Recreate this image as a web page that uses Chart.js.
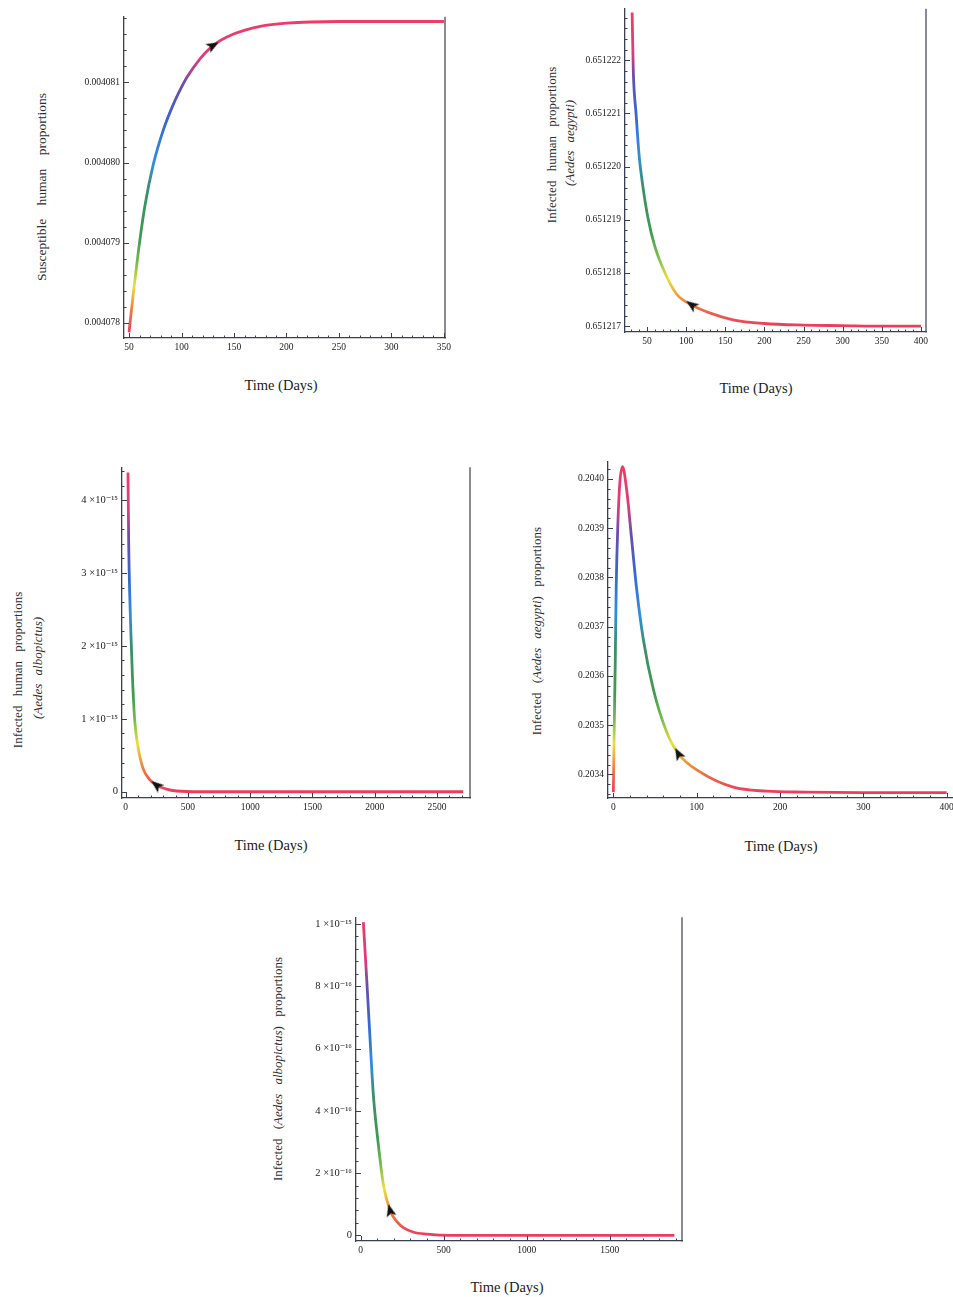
<!DOCTYPE html>
<html><head><meta charset="utf-8">
<script src="https://cdn.jsdelivr.net/npm/chart.js@4"></script>
<style>
html,body{margin:0;padding:0;background:#fff;}
body{width:953px;height:1297px;overflow:hidden;position:relative;font-family:'Liberation Serif','DejaVu Serif',serif;}
canvas{position:absolute;}
.t{position:absolute;white-space:nowrap;color:#1c1c1c;font-size:14.5px;transform:translate(-50%,-50%);}
.v{position:absolute;white-space:nowrap;color:#2e2e2e;font-size:13px;transform:translate(-50%,-50%) rotate(-90deg);word-spacing:6px;}
</style></head><body>

<div class="t" style="left:281px;top:385px">Time (Days)</div>
<div class="t" style="left:756px;top:388px">Time (Days)</div>
<div class="t" style="left:271px;top:845px">Time (Days)</div>
<div class="t" style="left:781px;top:846px">Time (Days)</div>
<div class="t" style="left:507px;top:1287px">Time (Days)</div>

<div class="v" style="left:42px;top:187px;font-size:13.5px;word-spacing:10px">Susceptible human proportions</div>
<div class="v" style="left:552px;top:145px">Infected human proportions</div>
<div class="v" style="left:570px;top:143px;word-spacing:5px"><i>(Aedes aegypti)</i></div>
<div class="v" style="left:18px;top:670px">Infected human proportions</div>
<div class="v" style="left:38px;top:668px;word-spacing:5px"><i>(Aedes albopictus)</i></div>
<div class="v" style="left:537px;top:631px">Infected (<i>Aedes aegypti</i>) proportions</div>
<div class="v" style="left:278px;top:1069px">Infected (<i>Aedes albopictus</i>) proportions</div>

<script>
// ---------- DATA ----------
// Panel 1: susceptible human proportions
const p1Time  = [50, 54, 59, 65, 73, 83, 92, 100, 105, 118, 130, 149, 175, 200, 250, 300, 350];
const p1Value = [0.00407788, 0.00407836, 0.0040789, 0.00407945, 0.00407997, 0.00408042, 0.00408072, 0.00408094,
                 0.00408106, 0.0040813, 0.00408146, 0.0040816, 0.0040817, 0.00408174, 0.00408176, 0.00408176, 0.00408176];
const p1XTicks = [50, 100, 150, 200, 250, 300, 350];
const p1XLabels = ['50', '100', '150', '200', '250', '300', '350'];
const p1YTicks = [0.004078, 0.004079, 0.004080, 0.004081];
const p1YLabels = ['0.004078', '0.004079', '0.004080', '0.004081'];
const p1Arrow = [130, 0.00408146];

// Panel 2: infected human proportions (Aedes aegypti)
const p2Time  = [31, 32.5, 36, 40, 45, 51.7, 60, 73, 88, 107, 130, 160, 200, 250, 300, 350, 400];
const p2Value = [0.6512229, 0.6512218, 0.651221, 0.6512202, 0.6512196, 0.651219, 0.6512185, 0.651218,
                 0.6512176, 0.6512174, 0.65121725, 0.65121712, 0.65121705, 0.65121702, 0.65121701, 0.651217, 0.651217];
const p2XTicks = [50, 100, 150, 200, 250, 300, 350, 400];
const p2XLabels = ['50', '100', '150', '200', '250', '300', '350', '400'];
const p2YTicks = [0.651217, 0.651218, 0.651219, 0.651220, 0.651221, 0.651222];
const p2YLabels = ['0.651217', '0.651218', '0.651219', '0.651220', '0.651221', '0.651222'];
const p2Arrow = [107, 0.6512174];

// Panel 3: infected human proportions (Aedes albopictus)
const p3Time  = [18, 24, 32, 40, 54, 72, 99, 139, 190, 247, 320, 408, 600, 1000, 1500, 2000, 2710];
const p3Value = [4.38e-15, 3.38e-15, 2.71e-15, 2.25e-15, 1.57e-15, 0.98e-15, 0.61e-15, 0.32e-15,
                 0.17e-15, 0.09e-15, 0.04e-15, 0.01e-15, 0, 0, 0, 0, 0];
const p3XTicks = [0, 500, 1000, 1500, 2000, 2500];
const p3XLabels = ['0', '500', '1000', '1500', '2000', '2500'];
const p3YTicks = [0, 1e-15, 2e-15, 3e-15, 4e-15];
const p3YLabels = ['0', '1 \u00d710\u207b\u00b9\u2075', '2 \u00d710\u207b\u00b9\u2075', '3 \u00d710\u207b\u00b9\u2075', '4 \u00d710\u207b\u00b9\u2075'];
const p3Arrow = [247, 0.09e-15];

// Panel 4: infected (Aedes aegypti) proportions
const p4Time  = [0, 1.2, 2.4, 3.4, 5.5, 7.8, 11, 16, 22, 28, 36, 48, 64, 78, 104, 144, 184, 230, 300, 400];
const p4Value = [0.203364, 0.203506, 0.20364, 0.203776, 0.203911, 0.203992, 0.204025, 0.203978, 0.203877,
                 0.203776, 0.203674, 0.203573, 0.203486, 0.203442, 0.203405, 0.203374, 0.203366, 0.203364, 0.203363, 0.203363];
const p4XTicks = [0, 100, 200, 300, 400];
const p4XLabels = ['0', '100', '200', '300', '400'];
const p4YTicks = [0.2034, 0.2035, 0.2036, 0.2037, 0.2038, 0.2039, 0.2040];
const p4YLabels = ['0.2034', '0.2035', '0.2036', '0.2037', '0.2038', '0.2039', '0.2040'];
const p4Arrow = [78, 0.203442];

// Panel 5: infected (Aedes albopictus) proportions
const p5Time  = [16, 36, 56, 76, 106, 136, 177, 217, 257, 320, 400, 540, 800, 1200, 1600, 1890];
const p5Value = [1.006e-15, 8.25e-16, 6.34e-16, 4.53e-16, 2.93e-16, 1.65e-16, 0.80e-16, 0.45e-16,
                 0.25e-16, 0.10e-16, 0.04e-16, 0, 0, 0, 0, 0];
const p5XTicks = [0, 500, 1000, 1500];
const p5XLabels = ['0', '500', '1000', '1500'];
const p5YTicks = [0, 2e-16, 4e-16, 6e-16, 8e-16, 1e-15];
const p5YLabels = ['0', '2 \u00d710\u207b\u00b9\u2076', '4 \u00d710\u207b\u00b9\u2076', '6 \u00d710\u207b\u00b9\u2076', '8 \u00d710\u207b\u00b9\u2076', '1 \u00d710\u207b\u00b9\u2075'];
const p5Arrow = [177, 0.80e-16];

// ---------- STYLE ----------
const AXIS = '#3a3f52';
const STOPS = [[0,'#ec3c5e'],[0.07,'#f07a3e'],[0.15,'#ebe03c'],[0.22,'#7cbf4a'],[0.3,'#3e9c50'],
               [0.45,'#3a9068'],[0.55,'#2f8ee0'],[0.68,'#3766d0'],[0.8,'#6c4cae'],[0.88,'#e03c78'],[1,'#ee3c64']];
const PAD_L = 72, PAD_T = 8, PAD_R = 14, AX_H = 24;

// arrowhead image (tip pointing up), used as a point style and rotated by Chart.js
const ARROW_IMG = (() => {
  const c = document.createElement('canvas');
  c.width = 14; c.height = 14;
  const g = c.getContext('2d');
  g.fillStyle = '#121212';
  g.beginPath();
  g.moveTo(7, 0.5); g.lineTo(12, 13); g.lineTo(7, 10); g.lineTo(2, 13); g.closePath();
  g.fill();
  return c;
})();

const framePlugin = {
  id: 'frame',
  afterDatasetsDraw(chart) {
    const o = chart.options.plugins.frame;
    const {ctx, chartArea: a, scales: {x, y}} = chart;
    ctx.save();
    ctx.strokeStyle = AXIS;
    ctx.lineWidth = 1.2;
    if (o.right) {
      ctx.beginPath(); ctx.moveTo(a.right, a.top); ctx.lineTo(a.right, a.bottom + 0.6); ctx.stroke();
    }
    ctx.lineWidth = 1;
    const minor = (sc, step) => {
      const out = [];
      const k0 = Math.ceil(sc.min / step - 1e-7), k1 = Math.floor(sc.max / step + 1e-7);
      for (let k = k0; k <= k1; k++) out.push(k * step);
      return out;
    };
    ctx.beginPath();
    for (const v of minor(x, o.xStep)) {
      const px = Math.round(x.getPixelForValue(v)) + 0.5;
      ctx.moveTo(px, a.bottom); ctx.lineTo(px, a.bottom - 2.5);
    }
    for (const v of o.xMajor) {
      const px = Math.round(x.getPixelForValue(v)) + 0.5;
      ctx.moveTo(px, a.bottom); ctx.lineTo(px, a.bottom - 5);
    }
    for (const v of minor(y, o.yStep)) {
      const py = Math.round(y.getPixelForValue(v)) + 0.5;
      ctx.moveTo(a.left, py); ctx.lineTo(a.left + 2.5, py);
    }
    for (const v of o.yMajor) {
      const py = Math.round(y.getPixelForValue(v)) + 0.5;
      ctx.moveTo(a.left, py); ctx.lineTo(a.left + 5, py);
    }
    ctx.stroke();
    ctx.restore();
  }
};

function gradient(vals) {
  return (c) => {
    const ch = c.chart, a = ch.chartArea;
    if (!a || !ch.scales.y) return '#ec3c5e';
    const lo = Math.min(...vals), hi = Math.max(...vals);
    const y0 = ch.scales.y.getPixelForValue(lo), y1 = ch.scales.y.getPixelForValue(hi);
    const g = ch.ctx.createLinearGradient(0, y0, 0, y1);
    STOPS.forEach(([s, col]) => g.addColorStop(s, col));
    return g;
  };
}

function makePanel(p) {
  const cv = document.createElement('canvas');
  const w = PAD_L + p.W + PAD_R, h = PAD_T + p.H + AX_H;
  cv.width = w; cv.height = h;
  cv.style.left = (p.L - PAD_L) + 'px';
  cv.style.top = (p.T - PAD_T) + 'px';
  cv.style.width = w + 'px'; cv.style.height = h + 'px';
  document.body.appendChild(cv);
  const fam = "'Liberation Serif','DejaVu Serif',serif";
  const xfont = {family: fam, size: 9.5};
  const yfont = {family: fam, size: p.ySize || 9.5};
  const rotation = (c) => {
    const ch = c.chart, xs = ch.scales.x, ys = ch.scales.y;
    if (!xs || !ys) return 0;
    const t = p.arrow[0];
    let i = 0;
    while (i < p.time.length - 2 && p.time[i + 1] <= t) i++;
    const j = p.back ? Math.max(i - 1, 0) : i;
    const dx = xs.getPixelForValue(p.time[j + 1]) - xs.getPixelForValue(p.time[j]);
    const dy = ys.getPixelForValue(p.val[j + 1]) - ys.getPixelForValue(p.val[j]);
    let ang = Math.atan2(dy, dx) * 180 / Math.PI;
    if (p.back) ang += 180;
    return ang + 90;
  };
  new Chart(cv, {
    type: 'scatter',
    data: {
      datasets: [
        {data: [{x: p.arrow[0], y: p.arrow[1]}], pointStyle: ARROW_IMG, pointRadius: 6,
         rotation, showLine: false, order: 0},
        {data: p.time.map((t, i) => ({x: t, y: p.val[i]})), showLine: true, pointRadius: 0,
         borderWidth: 2.8, borderColor: gradient(p.val), cubicInterpolationMode: 'monotone', order: 1}
      ]
    },
    options: {
      responsive: false, animation: false, events: [],
      layout: {padding: {left: 0, top: PAD_T, right: PAD_R, bottom: 0}},
      plugins: {legend: {display: false}, tooltip: {enabled: false},
        frame: {right: p.right, xMajor: p.xTicks, yMajor: p.yTicks, xStep: p.xStep, yStep: p.yStep}},
      scales: {
        x: {type: 'linear', min: p.xMin, max: p.xMax,
            grid: {display: false, drawTicks: false},
            border: {display: true, color: AXIS, width: 1.3},
            ticks: {autoSkip: false, maxRotation: 0, padding: 4, color: '#222', font: xfont,
                    callback: (v, i) => p.xLabels[i]},
            afterBuildTicks: (s) => { s.ticks = p.xTicks.map(v => ({value: v})); },
            afterFit: (s) => { s.height = AX_H; }},
        y: {type: 'linear', min: p.yMin, max: p.yMax,
            grid: {display: false, drawTicks: false},
            border: {display: true, color: AXIS, width: 1.3},
            ticks: {autoSkip: false, padding: 4, color: '#222', font: yfont,
                    callback: (v, i) => p.yLabels[i]},
            afterBuildTicks: (s) => { s.ticks = p.yTicks.map(v => ({value: v})); },
            afterFit: (s) => { s.width = PAD_L; }}
      }
    },
    plugins: [framePlugin]
  });
}

makePanel({L: 124, T: 15, W: 321, H: 323, xMin: 45.2, xMax: 351, yMin: 0.00407781, yMax: 0.00408182,
  time: p1Time, val: p1Value, xTicks: p1XTicks, xLabels: p1XLabels, yTicks: p1YTicks, yLabels: p1YLabels,
  xStep: 10, yStep: 0.2e-6, arrow: p1Arrow, back: false, right: true});
makePanel({L: 625, T: 7, W: 301, H: 325, xMin: 21.9, xMax: 406.4, yMin: 0.65121689, yMax: 0.65122297,
  time: p2Time, val: p2Value, xTicks: p2XTicks, xLabels: p2XLabels, yTicks: p2YTicks, yLabels: p2YLabels,
  xStep: 10, yStep: 0.2e-6, arrow: p2Arrow, back: true, right: true});
makePanel({L: 122, T: 465, W: 348, H: 333, xMin: -30, xMax: 2765, yMin: -0.086e-15, yMax: 4.45e-15,
  time: p3Time, val: p3Value, xTicks: p3XTicks, xLabels: p3XLabels, yTicks: p3YTicks, yLabels: p3YLabels,
  xStep: 100, yStep: 0.2e-15, arrow: p3Arrow, back: true, right: true, ySize: 10.5});
makePanel({L: 608, T: 460, W: 350, H: 338, xMin: -6.4, xMax: 413.6, yMin: 0.2033521, yMax: 0.204035,
  time: p4Time, val: p4Value, xTicks: p4XTicks, xLabels: p4XLabels, yTicks: p4YTicks, yLabels: p4YLabels,
  xStep: 20, yStep: 0.00002, arrow: p4Arrow, back: true, right: true});
makePanel({L: 356, T: 915, W: 326, H: 326, xMin: -28.3, xMax: 1936, yMin: -0.018e-15, yMax: 1.0214e-15,
  time: p5Time, val: p5Value, xTicks: p5XTicks, xLabels: p5XLabels, yTicks: p5YTicks, yLabels: p5YLabels,
  xStep: 100, yStep: 0.4e-16, arrow: p5Arrow, back: true, right: true, ySize: 10.5});
</script>
</body></html>
